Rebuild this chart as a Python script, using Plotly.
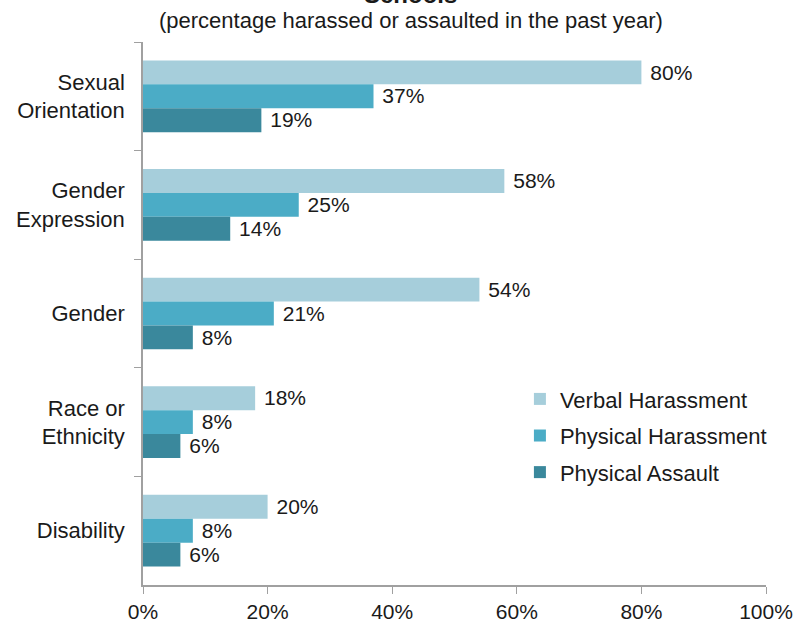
import plotly.graph_objects as go

categories = ["Sexual<br>Orientation", "Gender<br>Expression", "Gender", "Race or<br>Ethnicity", "Disability"]
verbal = [80, 58, 54, 18, 20]
physical_har = [37, 25, 21, 8, 8]
physical_asl = [19, 14, 8, 6, 6]
series_names = ["Verbal Harassment", "Physical Harassment", "Physical Assault"]
colors = ["#A6CEDB", "#4BACC6", "#3A889C"]
tick_vals = [0, 20, 40, 60, 80, 100]
tick_text = ["0%", "20%", "40%", "60%", "80%", "100%"]

font_family = "Liberation Sans, Arial, sans-serif"

fig = go.Figure()
for i, (name, vals, col) in enumerate(zip(series_names, [verbal, physical_har, physical_asl], colors)):
    fig.add_trace(go.Bar(
        y=categories, x=vals, name=name, orientation="h",
        legendgroup=f"g{i}",
        marker=dict(color=col, line=dict(width=0)),
        text=[f"\u00a0{v}%" for v in vals], textposition="outside",
        textfont=dict(size=22, color="#1a1a1a", family=font_family),
        cliponaxis=False,
    ))

fig.update_layout(
    width=794, height=625,
    margin=dict(l=143, r=28, t=42, b=40),
    barmode="group", bargap=0.34, bargroupgap=0,
    paper_bgcolor="white", plot_bgcolor="white",
    font=dict(family=font_family, size=22, color="#1a1a1a"),
    showlegend=True,
    legend=dict(x=0.605, y=0.381, xanchor="left", yanchor="top",
                font=dict(size=22), traceorder="grouped",
                itemwidth=30, tracegroupgap=5, bgcolor="rgba(0,0,0,0)"),
    xaxis=dict(range=[0, 100], tickvals=tick_vals, ticktext=tick_text,
               showgrid=False, zeroline=False, showline=True, linecolor="#a0a0a0",
               linewidth=1.5, ticks="outside", ticklen=7, tickcolor="#a0a0a0",
               tickfont=dict(size=21), automargin=False, ticklabeloverflow="allow"),
    yaxis=dict(autorange="reversed", showgrid=False, showline=True,
               linecolor="#a0a0a0", linewidth=1.5, ticks="outside", ticklen=7,
               tickcolor="#a0a0a0", tickson="boundaries", tickfont=dict(size=22),
               ticklabelstandoff=12, automargin=False),
    annotations=[
        dict(text="(percentage harassed or assaulted in the past year)", xref="paper", yref="paper",
             x=0.43, y=1.0405, xanchor="center", yanchor="middle", showarrow=False,
             font=dict(size=22)),
        dict(text="<b>Schools</b>", xref="paper", yref="paper",
             x=0.43, y=1.059, xanchor="center", yanchor="bottom", showarrow=False,
             font=dict(size=24)),
    ],
)

fig.write_html(
    "out.html",
    config={"displayModeBar": False},
    post_script="document.body.style.margin='0';document.body.style.overflow='hidden';",
)
